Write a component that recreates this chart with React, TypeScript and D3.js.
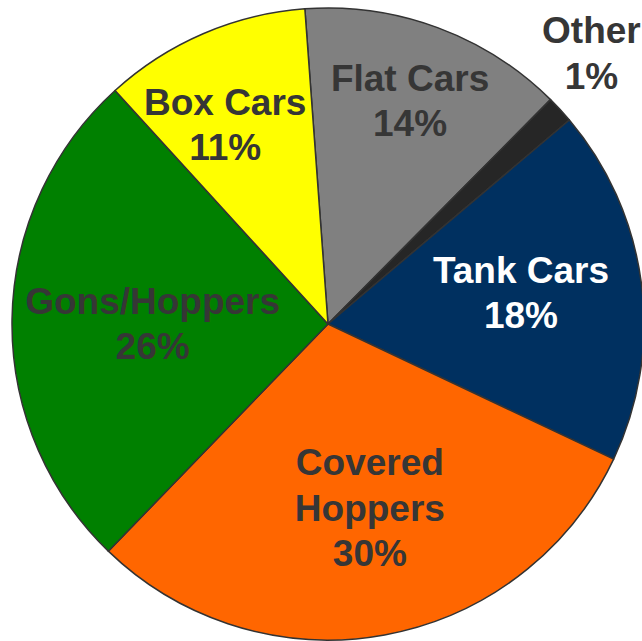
import React from "react";
import * as d3 from "d3";

const categories = ["Flat Cars", "Other", "Tank Cars", "Covered Hoppers", "Gons/Hoppers", "Box Cars"];
const values = [13.6, 1.4, 18.2, 30.2, 26.0, 10.6];
const percentLabels = ["14%", "1%", "18%", "30%", "26%", "11%"];
const labelLines = [["Flat Cars"], ["Other"], ["Tank Cars"], ["Covered", "Hoppers"], ["Gons/Hoppers"], ["Box Cars"]];
const colors = ["#808080", "#262626", "#003060", "#FF6600", "#008000", "#FFFF00"];
const textColors = ["#363636", "#363636", "#FFFFFF", "#363636", "#363636", "#363636"];
// label placement (layout): radius factor and angular shift in degrees
const labelRadius = [0.753, 1.196, 0.619, 0.597, 0.555, 0.71];
const labelShift = [-0.1, -3.1, -1.9, -2.5, -0.7, -4.0];

export default function App() {
  const W = 642, H = 641;
  const cx = 328, cy = 324, r = 316;
  const startDeg = -4.2;
  const pie = d3.pie<number>().sort(null).value((d) => d)
    .startAngle((startDeg * Math.PI) / 180)
    .endAngle(((startDeg + 360) * Math.PI) / 180);
  const arcs = pie(values);
  const arcGen = d3.arc<d3.PieArcDatum<number>>().innerRadius(0).outerRadius(r);
  const fs = 37;
  const lh = 45.5;
  const cap = 26;
  return (
    <svg width={W} height={H} style={{ position: "absolute", left: 0, top: 0 }}>
      <g transform={`translate(${cx},${cy})`}>
        {arcs.map((a, i) => (
          <path key={i} d={arcGen(a) || ""} fill={colors[i]} stroke="#333333" strokeWidth={1.5} strokeLinejoin="round">
            <title>{categories[i]}</title>
          </path>
        ))}
        {arcs.map((a, i) => {
          const mid = (a.startAngle + a.endAngle) / 2 + (labelShift[i] * Math.PI) / 180;
          const rr = r * labelRadius[i];
          const x = Math.sin(mid) * rr;
          const y = -Math.cos(mid) * rr;
          const lines = [...labelLines[i], percentLabels[i]];
          const n = lines.length;
          return (
            <text key={i} textAnchor="middle" fill={textColors[i]}
              style={{ fontFamily: "'Liberation Sans', Arial, sans-serif", fontWeight: "bold", fontSize: fs }}>
              {lines.map((l, j) => (
                <tspan key={j} x={x} y={y + (j - (n - 1) / 2) * lh + cap / 2}>{l}</tspan>
              ))}
            </text>
          );
        })}
      </g>
    </svg>
  );
}
